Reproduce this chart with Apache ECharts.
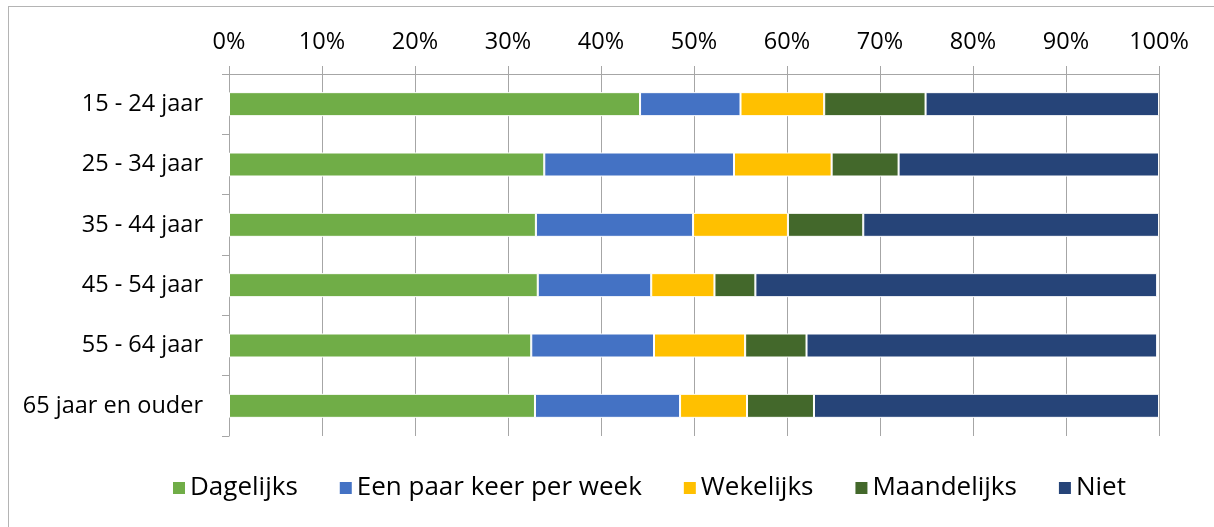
<!doctype html>
<html>
	<head>
		<meta charset="utf-8">
		<title></title>
		<script src="https://cdn.jsdelivr.net/npm/echarts@6/dist/echarts.min.js"></script>
		<style>
			html, body {
				margin: 0px;
				padding: 0px;
				background: #ffffff;
			}
			#frame {
				position: absolute;
				left: 8px;
				top: 6px;
				width: 1300px;
				height: 600px;
				border: 1px solid #b4b4b4;
			}
			#chart {
				position: absolute;
				left: 0px;
				top: 0px;
				width: 1214px;
				height: 527px;
			}
		</style>
	</head>

	<body>
		<div id="frame"></div>
		<div id="chart"></div>
	</body>

	<script type="text/javascript">
		//leeftijdsgroepen
		var categories = ['15 - 24 jaar', '25 - 34 jaar', '35 - 44 jaar', '45 - 54 jaar', '55 - 64 jaar', '65 jaar en ouder'];
		//series namen
		var seriesNames = ['Dagelijks', 'Een paar keer per week', 'Wekelijks', 'Maandelijks', 'Niet'];
		//percentages per serie
		var dagelijks = [44.2, 33.9, 33.0, 33.2, 32.5, 32.9];
		var paarKeer = [10.8, 20.4, 16.9, 12.2, 13.2, 15.6];
		var wekelijks = [9.0, 10.5, 10.2, 6.8, 9.8, 7.2];
		var maandelijks = [10.9, 7.2, 8.1, 4.4, 6.6, 7.2];
		var niet = [25.1, 28.0, 31.8, 43.2, 37.7, 37.1];
		var colors = ['#70AD47', '#4472C4', '#FFC000', '#43682B', '#264478'];

		var font = '"Open Sans", sans-serif';
		var seriesData = [dagelijks, paarKeer, wekelijks, maandelijks, niet];

		var chart = echarts.init(document.getElementById('chart'));

		var series = [];
		for (var i = 0; i < seriesNames.length; i++) {
			series.push({
				name: seriesNames[i],
				type: 'bar',
				stack: 'totaal',
				barWidth: 24,
				data: seriesData[i],
				itemStyle: {
					color: colors[i],
					borderColor: '#ffffff',
					borderWidth: 1
				}
			});
		}

		chart.setOption({
			animation: false,
			color: colors,
			grid: {
				left: 229,
				right: 55,
				top: 74,
				bottom: 91
			},
			legend: {
				left: 166,
				top: 470,
				itemWidth: 14,
				itemHeight: 14,
				itemGap: 40,
				icon: 'rect',
				textStyle: {
					fontFamily: font,
					fontSize: 26,
					color: '#000000',
					padding: [0, 0, 0, -1]
				},
				data: seriesNames
			},
			xAxis: {
				type: 'value',
				position: 'top',
				min: 0,
				max: 100,
				interval: 10,
				axisLine: {
					show: true,
					lineStyle: { color: '#a6a6a6', width: 1 }
				},
				axisTick: {
					show: true,
					length: 8,
					lineStyle: { color: '#a6a6a6' }
				},
				splitLine: {
					show: true,
					lineStyle: { color: '#a6a6a6', width: 1 }
				},
				axisLabel: {
					formatter: '{value}%',
					margin: 20,
					fontFamily: font,
					fontSize: 23.5,
					color: '#000000'
				}
			},
			yAxis: {
				type: 'category',
				inverse: true,
				data: categories,
				axisLine: {
					show: true,
					lineStyle: { color: '#a6a6a6', width: 1 }
				},
				axisTick: {
					show: true,
					length: 7,
					lineStyle: { color: '#a6a6a6' }
				},
				axisLabel: {
					margin: 26,
					fontFamily: font,
					fontSize: 23.5,
					color: '#000000'
				}
			},
			series: series
		});
	</script>

</html>
